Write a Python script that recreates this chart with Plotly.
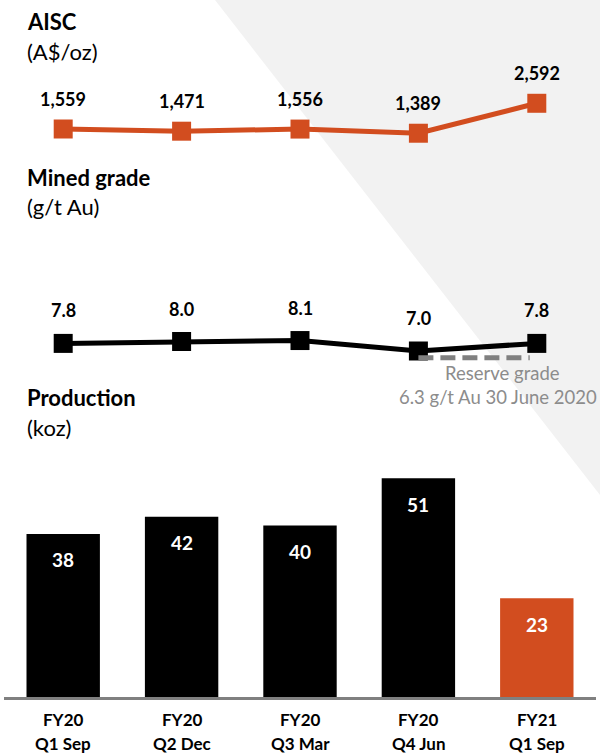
import plotly.graph_objects as go

fiscal_years = ["FY20", "FY20", "FY20", "FY20", "FY21"]
quarters = ["Q1 Sep", "Q2 Dec", "Q3 Mar", "Q4 Jun", "Q1 Sep"]
aisc = [1559, 1471, 1556, 1389, 2592]
aisc_labels = ["1,559", "1,471", "1,556", "1,389", "2,592"]
grade = [7.8, 8.0, 8.1, 7.0, 7.8]
grade_labels = ["7.8", "8.0", "8.1", "7.0", "7.8"]
production = [38, 42, 40, 51, 23]
reserve_grade = 6.3

ORANGE = "#D24D1F"
BLACK = "#000000"
GRAY = "#8C8C8C"
FONT = "Lato"
W, H = 600, 753

def fy(py):
    return 1 - py / H

xs = list(range(len(fiscal_years)))
bar_colors = [BLACK] * 4 + [ORANGE]

fig = go.Figure()

fig.add_trace(go.Bar(x=xs, y=production, xaxis="x", yaxis="y3", width=0.62,
                     marker=dict(color=bar_colors, line=dict(width=0)), hoverinfo="skip"))

fig.add_trace(go.Scatter(x=xs, y=aisc, xaxis="x", yaxis="y", mode="lines+markers",
                         line=dict(color=ORANGE, width=5),
                         marker=dict(symbol="square", size=19, color=ORANGE)))

fig.add_trace(go.Scatter(x=xs, y=grade, xaxis="x", yaxis="y2", mode="lines+markers",
                         line=dict(color=BLACK, width=5),
                         marker=dict(symbol="square", size=19, color=BLACK)))

fig.add_trace(go.Scatter(x=[3.0, 3.94], y=[reserve_grade, reserve_grade], xaxis="x", yaxis="y2",
                         mode="lines", line=dict(color="#808080", width=5, dash="15px,7px")))

annotations = []
for i, (v, t) in enumerate(zip(aisc, aisc_labels)):
    annotations.append(dict(x=i, y=v, xref="x", yref="y", text=f"<b>{t}</b>", showarrow=False,
                            yshift=30, font=dict(family=FONT, size=18, color=BLACK)))
for i, (v, t) in enumerate(zip(grade, grade_labels)):
    annotations.append(dict(x=i, y=v, xref="x", yref="y2", text=f"<b>{t}</b>", showarrow=False,
                            yshift=33, font=dict(family=FONT, size=18, color=BLACK)))
for i, v in enumerate(production):
    annotations.append(dict(x=i, y=v, xref="x", yref="y3", text=f"<b>{v}</b>", showarrow=False,
                            yshift=-26, font=dict(family=FONT, size=19, color="#FFFFFF")))
for i, (fyr, q) in enumerate(zip(fiscal_years, quarters)):
    annotations.append(dict(x=i, y=fy(719), xref="x", yref="paper", text=f"<b>{fyr}</b>", showarrow=False,
                            yanchor="middle", font=dict(family=FONT, size=17, color=BLACK)))
    annotations.append(dict(x=i, y=fy(743), xref="x", yref="paper", text=f"<b>{q}</b>", showarrow=False,
                            yanchor="middle", font=dict(family=FONT, size=17, color=BLACK)))

titles = [("<b>AISC</b>", 22), ("(A$/oz)", 52), ("<b>Mined grade</b>", 177), ("(g/t Au)", 207),
          ("<b>Production</b>", 397), ("(koz)", 427)]
for t, py in titles:
    annotations.append(dict(x=25 / W, y=fy(py), xref="paper", yref="paper", text=t, showarrow=False,
                            xanchor="left", yanchor="middle", font=dict(family=FONT, size=22, color=BLACK)))

annotations.append(dict(x=502 / W, y=fy(373), xref="paper", yref="paper", text="Reserve grade",
                        showarrow=False, xanchor="center", yanchor="middle",
                        font=dict(family=FONT, size=18.5, color=GRAY)))
annotations.append(dict(x=599 / W, y=fy(397), xref="paper", yref="paper", text="6.3 g/t Au 30 June 2020",
                        showarrow=False, xanchor="right", yanchor="middle",
                        font=dict(family=FONT, size=18.5, color=GRAY)))

# AISC axis: pixels 60..160
aisc_ppu = 0.0249
aisc_lo = 1559 - (160 - 129) / aisc_ppu
aisc_hi = aisc_lo + 100 / aisc_ppu
# grade axis: pixels 300..380
g_ppu = 9.5
g_lo = 7.0 - (380 - 351) / g_ppu
g_hi = g_lo + 80 / g_ppu
# bars
b_ppu = 4.29
b_top_px = 440
b_hi = (697 - b_top_px) / b_ppu

fig.update_layout(
    width=W, height=H, margin=dict(l=0, r=0, t=0, b=0),
    paper_bgcolor="#FFFFFF", plot_bgcolor="rgba(0,0,0,0)",
    showlegend=False, font=dict(family=FONT, color=BLACK),
    xaxis=dict(domain=[4 / W, 596 / W], range=[-0.5, 4.5], anchor="y3",
               tickvals=xs, showticklabels=False, showgrid=False, zeroline=False,
               showline=True, linecolor="#808080", linewidth=3, ticks=""),
    yaxis=dict(domain=[fy(160), fy(60)], range=[aisc_lo, aisc_hi], visible=False),
    yaxis2=dict(domain=[fy(380), fy(300)], range=[g_lo, g_hi], visible=False),
    yaxis3=dict(domain=[fy(697), fy(b_top_px)], range=[0, b_hi], visible=False),
    annotations=annotations,
    shapes=[dict(type="path", xref="paper", yref="paper", layer="below",
                 path=f"M {215 / W} 1 L 1 1 L 1 {fy(495)} Z",
                 fillcolor="#F2F2F2", line=dict(width=0))],
)

fig.write_html("out.html", config={"displayModeBar": False},
               post_script="document.body.style.margin='0px';document.body.style.overflow='hidden';")
